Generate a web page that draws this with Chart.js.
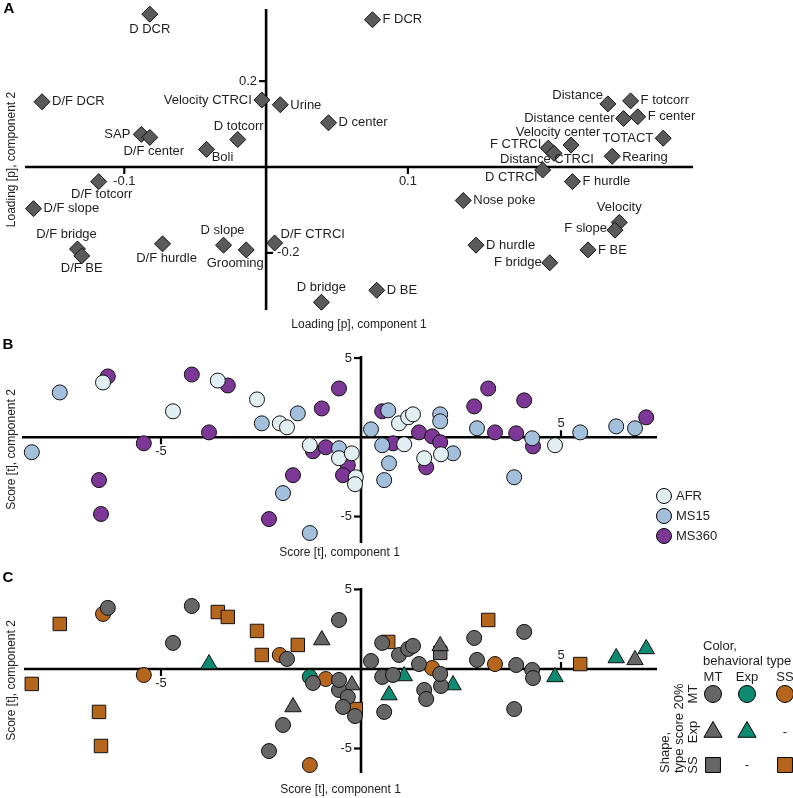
<!DOCTYPE html>
<html><head><meta charset="utf-8">
<script src="https://cdn.jsdelivr.net/npm/chart.js@4.4.1/dist/chart.umd.min.js"></script>
<style>
html,body{margin:0;padding:0;background:#fff;}
#wrap{position:relative;width:793px;height:798px;overflow:hidden;}
#wrap canvas{position:absolute;left:0;top:0;}
</style></head><body>
<div id="wrap">
<canvas id="cA" width="793" height="798"></canvas>
<canvas id="cB" width="793" height="798"></canvas>
<canvas id="cC" width="793" height="798"></canvas>
</div>
<script>
// ================= DATA =================
// Panel A: loadings
const loadingNames = ['D DCR','F DCR','D/F DCR','Velocity CTRCI','Urine','D center','Distance','F totcorr',
  'Distance center','F center','Velocity center','TOTACT','F CTRCI','Distance CTRCI','Rearing','D CTRCI',
  'F hurdle','Nose poke','Velocity','F slope','D hurdle','F BE','F bridge','D BE','D bridge','SAP',
  'D/F center','D totcorr','Boli','D/F totcorr','D/F slope','D/F bridge','D/F BE','D/F hurdle','D slope',
  'Grooming','D/F CTRCI'];
const loadingP1 = [-0.082,0.075,-0.158,-0.003,0.010,0.044,0.241,0.257,0.252,0.262,0.215,0.280,0.199,0.203,
  0.244,0.195,0.216,0.139,0.249,0.246,0.148,0.227,0.200,0.078,0.039,-0.088,-0.082,-0.020,-0.042,-0.118,
  -0.164,-0.133,-0.130,-0.073,-0.030,-0.014,0.006];
const loadingP2 = [0.356,0.343,0.152,0.156,0.145,0.103,0.147,0.154,0.113,0.117,0.051,0.067,0.044,0.032,
  0.025,-0.007,-0.034,-0.078,-0.129,-0.147,-0.182,-0.193,-0.223,-0.287,-0.315,0.076,0.069,0.064,0.041,
  -0.034,-0.097,-0.191,-0.207,-0.179,-0.182,-0.193,-0.177];
const loadingTicksX = [-0.1, 0.1];
const loadingTicksY = [0.2, -0.2];
const loadingTickLabelsX = ['-0.1','0.1'];
const loadingTickLabelsY = ['0.2','-0.2'];

// Panels B and C: scores (same animals), group and behavioural type
const groupNames = ['AFR','MS15','MS360'];
const afrT1 = [-6.45,-3.58,-4.70,-2.60,-2.03,-1.85,-1.28,-0.55,-0.23,-0.13,-0.15,0.95,1.18,1.30,1.08,1.58,2.00,4.85];
const afrT2 = [3.46,3.58,1.64,2.39,0.88,0.63,-0.50,-1.32,-1.01,-2.52,-2.96,0.88,1.26,1.45,-0.44,-1.32,-1.07,-0.50];
const ms15T1 = [-7.53,-8.23,-2.48,-1.58,0.25,0.68,0.53,0.70,0.58,-0.55,-1.95,-1.28,1.98,1.98,2.30,2.90,4.28,3.83,5.48,6.38,6.85];
const ms15T2 = [2.83,-0.94,0.88,1.51,0.50,1.70,-0.50,-1.64,-2.70,-0.69,-3.52,-6.04,1.45,1.01,-1.01,0.57,-0.06,-2.52,0.31,0.69,0.57];
const ms360T1 = [-6.33,-4.23,-3.33,-3.80,-5.43,-6.55,-6.50,-0.55,-0.98,0.53,-1.20,-0.88,-1.70,-0.33,-0.45,-2.30,0.80,1.45,1.78,1.98,2.83,3.18,3.35,3.88,4.08,4.30,1.63,7.13];
const ms360T2 = [3.84,3.96,3.27,0.31,-0.38,-2.70,-4.84,3.08,1.82,1.64,-0.88,-0.63,-2.39,-1.76,-2.39,-5.16,-0.38,0.31,0.06,-0.31,1.95,3.08,0.31,0.25,2.33,-0.57,-1.89,1.26];
// "shape type (type score 20%) / colour type (behavioral type)"
const afrType = ['MT/SS','SS/SS','MT/MT','SS/SS','MT/SS','MT/MT','MT/Exp','MT/MT','Exp/MT','SS/SS','MT/MT','MT/MT','MT/MT','MT/MT','Exp/Exp','MT/MT','MT/MT','Exp/Exp'];
const ms15Type = ['SS/SS','SS/SS','SS/SS','SS/SS','MT/MT','SS/SS','MT/MT','Exp/Exp','MT/MT','MT/MT','MT/MT','MT/SS','Exp/MT','SS/MT','Exp/Exp','MT/MT','MT/MT','MT/MT','SS/SS','Exp/Exp','Exp/MT'];
const ms360Type = ['MT/MT','MT/MT','SS/SS','Exp/Exp','MT/SS','SS/SS','SS/SS','MT/MT','Exp/MT','MT/MT','MT/MT','MT/SS','Exp/MT','MT/MT','MT/MT','MT/MT','MT/MT','MT/MT','MT/SS','MT/MT','MT/MT','SS/SS','MT/SS','MT/MT','MT/MT','MT/MT','MT/MT','Exp/Exp'];
const behaviouralTypes = ['MT','Exp','SS'];
const typeClasses = ['MT/MT','MT/Exp','MT/SS','Exp/MT','Exp/Exp','SS/MT','SS/SS'];
const scoreTicksX = [-5, 5];
const scoreTicksY = [5, -5];
const scoreTickLabelsX = ['-5','5'];
const scoreTickLabelsY = ['5','-5'];

// ================= STYLE =================
const FONT = "'Liberation Sans', Arial, Helvetica, sans-serif";
Chart.defaults.font.family = FONT;
const groupColors = ['#e2eff2','#a2bfdc','#7c3797'];
const typeColor = {MT:'#666666', Exp:'#0f8a72', SS:'#b6651d'};
const typeShape = {MT:'circle', Exp:'triangle', SS:'rect'};
const shapeRadius = {circle:7.5, triangle:9.5, rect:9.5};
// label placement for loadings: [dx, dy, align]
const labelPlace = {
  'D DCR':[0,15,'center'],'F DCR':[10,0,'left'],'D/F DCR':[10,0,'left'],'Velocity CTRCI':[-10,0,'right'],
  'Urine':[10,1,'left'],'D center':[10,0,'left'],'Distance':[-5,-8,'right'],'F totcorr':[10,0,'left'],
  'Distance center':[-9,0,'right'],'F center':[10,0,'left'],'Velocity center':[-13,-13,'center'],
  'TOTACT':[-10,0,'right'],'F CTRCI':[-7,-4,'right'],'Distance CTRCI':[-7,6,'center'],'Rearing':[10,1,'left'],
  'D CTRCI':[-5,7,'right'],'F hurdle':[10,0,'left'],'Nose poke':[10,0,'left'],'Velocity':[0,-15,'center'],
  'F slope':[-8,-2,'right'],'D hurdle':[10,0,'left'],'F BE':[10,1,'left'],'F bridge':[-8,0,'right'],
  'D BE':[10,0,'left'],'D bridge':[0,-15,'center'],'SAP':[-11,0,'right'],'D/F center':[4,14,'center'],
  'D totcorr':[1,-13,'center'],'Boli':[16,8,'center'],'D/F totcorr':[3,13,'center'],'D/F slope':[10,0,'left'],
  'D/F bridge':[-11,-15,'center'],'D/F BE':[0,13,'center'],'D/F hurdle':[4,15,'center'],'D slope':[-1,-15,'center'],
  'Grooming':[-11,14,'center'],'D/F CTRCI':[6,-9,'left']
};

// ================= PLUGINS =================
const crossAxes = {
  id:'crossAxes',
  beforeDatasetsDraw(chart, args, o){
    const {ctx, chartArea:ca, scales:{x,y}} = chart;
    const x0 = x.getPixelForValue(0), y0 = y.getPixelForValue(0);
    ctx.save();
    ctx.strokeStyle='#000'; ctx.lineWidth=2.6;
    ctx.beginPath(); ctx.moveTo(ca.left,y0); ctx.lineTo(ca.right,y0);
    ctx.moveTo(x0,ca.top); ctx.lineTo(x0,ca.bottom); ctx.stroke();
    ctx.fillStyle='#222'; ctx.font='13px '+FONT; ctx.lineWidth=2.2;
    o.xTicks.forEach((v,i)=>{
      const px=x.getPixelForValue(v); const s=o.xSide[i]==='up'?-1:1;
      ctx.beginPath(); ctx.moveTo(px,y0); ctx.lineTo(px,y0+s*7); ctx.stroke();
      ctx.textAlign='center'; ctx.textBaseline='middle';
      ctx.fillText(o.xLabels[i], px, y0+s*14);
    });
    o.yTicks.forEach((v,i)=>{
      const py=y.getPixelForValue(v); const s=o.ySide[i]==='left'?-1:1;
      ctx.beginPath(); ctx.moveTo(x0,py); ctx.lineTo(x0+s*7,py); ctx.stroke();
      ctx.textAlign=s<0?'right':'left'; ctx.textBaseline='middle';
      ctx.fillText(o.yLabels[i], x0+s*(s<0?9:11), py);
    });
    // titles
    ctx.font='12px '+FONT; ctx.fillStyle='#222';
    ctx.textAlign='center'; ctx.textBaseline='middle';
    ctx.fillText(o.xTitle,(ca.left+ca.right)/2,o.xTitleY);
    ctx.save(); ctx.translate(12,(ca.top+ca.bottom)/2); ctx.rotate(-Math.PI/2);
    ctx.fillText(o.yTitle,0,0); ctx.restore();
    // panel letter
    ctx.font='bold 15px '+FONT; ctx.fillStyle='#000';
    ctx.fillText(o.panel,o.panelX,o.panelY);
    ctx.restore();
  }
};

const pointLabels = {
  id:'pointLabels',
  afterDatasetsDraw(chart){
    const ctx=chart.ctx; const meta=chart.getDatasetMeta(0);
    ctx.save(); ctx.font='13px '+FONT; ctx.fillStyle='#1e1e1e'; ctx.textBaseline='middle';
    meta.data.forEach((el,i)=>{
      const name=loadingNames[i]; const p=labelPlace[name]||[10,0,'left'];
      ctx.textAlign=p[2]; ctx.fillText(name, el.x+p[0], el.y+p[1]);
    });
    ctx.restore();
  }
};

const groupLegend = {
  id:'groupLegend',
  afterDatasetsDraw(chart, args, o){
    const ctx=chart.ctx; ctx.save();
    chart.data.datasets.forEach((ds,i)=>{
      const cx=o.x, cy=o.y+i*o.dy;
      ctx.fillStyle=ds.backgroundColor; ctx.strokeStyle='#000'; ctx.lineWidth=1;
      ctx.beginPath(); ctx.arc(cx,cy,7.5,0,Math.PI*2); ctx.fill(); ctx.stroke();
      ctx.fillStyle='#1e1e1e'; ctx.font='13px '+FONT; ctx.textAlign='left'; ctx.textBaseline='middle';
      ctx.fillText(ds.label,cx+12,cy);
    });
    ctx.restore();
  }
};

const typeLegend = {
  id:'typeLegend',
  afterDatasetsDraw(chart, args, o){
    const ctx=chart.ctx; ctx.save();
    ctx.font='13px '+FONT; ctx.fillStyle='#1e1e1e'; ctx.textBaseline='middle'; ctx.textAlign='left';
    ctx.fillText('Color,',703,646);
    ctx.fillText('behavioral type',703,661);
    const cols=[713,747,785], rows=[694,732,765];
    ctx.textAlign='center';
    behaviouralTypes.forEach((t,i)=>ctx.fillText(t,cols[i],677));
    // rotated shape labels
    const rot=(txt,x,y,align)=>{ctx.save();ctx.translate(x,y);ctx.rotate(-Math.PI/2);ctx.textAlign=align;ctx.fillText(txt,0,0);ctx.restore();};
    rot('Shape,',665,773,'left');
    rot('type score 20%',679,773,'left');
    behaviouralTypes.forEach((t,i)=>rot(t,693,rows[i],'center'));
    behaviouralTypes.forEach((shapeT,r)=>{
      behaviouralTypes.forEach((colT,c)=>{
        const cls=shapeT+'/'+colT;
        if(typeClasses.indexOf(cls)<0){
          ctx.fillStyle='#1e1e1e'; ctx.textAlign='center'; ctx.fillText('-',cols[c],rows[r]); return;
        }
        const shape=typeShape[shapeT];
        ctx.fillStyle=typeColor[colT]; ctx.strokeStyle='#000'; ctx.lineWidth=1;
        Chart.helpers.drawPoint(ctx,{pointStyle:shape,radius:shape==='circle'?8.5:10.5,borderWidth:1,rotation:0},cols[c],rows[r]);
      });
    });
    ctx.restore();
  }
};

function pts(xs,ys){ return xs.map((v,i)=>({x:v,y:ys[i]})); }
const baseOpts = (pad,xmin,xmax,ymin,ymax)=>({
  responsive:false, animation:false, events:[],
  layout:{padding:pad},
  scales:{x:{type:'linear',min:xmin,max:xmax,display:false},y:{type:'linear',min:ymin,max:ymax,display:false}},
  plugins:{legend:{display:false},tooltip:{enabled:false}}
});

// ================= CHART A =================
const optA = baseOpts({left:25,right:100,top:5,bottom:488},-0.170,0.301,-0.333,0.368);
optA.plugins.crossAxes={xTicks:loadingTicksX,xLabels:loadingTickLabelsX,xSide:['down','down'],
  yTicks:loadingTicksY,yLabels:loadingTickLabelsY,ySide:['left','right'],
  xTitle:'Loading [p], component 1',xTitleY:325,yTitle:'Loading [p], component 2',panel:'A',panelX:9,panelY:9};
new Chart(document.getElementById('cA'),{
  type:'scatter',
  data:{datasets:[{label:'Loadings',data:pts(loadingP1,loadingP2),pointStyle:'rectRot',pointRadius:8,
    backgroundColor:'#5a5a5a',borderColor:'#111',borderWidth:1,clip:false}]},
  options:optA, plugins:[crossAxes,pointLabels]
});

// ================= CHART B =================
const optB = baseOpts({left:22,right:136,top:356,bottom:255},-8.475,7.4,-6.67,5.13);
optB.plugins.crossAxes={xTicks:scoreTicksX,xLabels:scoreTickLabelsX,xSide:['down','up'],
  yTicks:scoreTicksY,yLabels:scoreTickLabelsY,ySide:['left','left'],
  xTitle:'Score [t], component 1',xTitleY:553,yTitle:'Score [t], component 2',panel:'B',panelX:8,panelY:345};
optB.plugins.groupLegend={x:664,y:496,dy:20};
const groupT1=[afrT1,ms15T1,ms360T1], groupT2=[afrT2,ms15T2,ms360T2], groupType=[afrType,ms15Type,ms360Type];
new Chart(document.getElementById('cB'),{
  type:'scatter',
  data:{datasets:groupNames.map((g,i)=>({label:g,data:pts(groupT1[i],groupT2[i]),pointStyle:'circle',pointRadius:7.5,
    backgroundColor:groupColors[i],borderColor:'#111',borderWidth:1,clip:false}))},
  options:optB, plugins:[crossAxes,groupLegend]
});

// ================= CHART C =================
const optC = baseOpts({left:24,right:136,top:588,bottom:25},-8.425,7.4,-6.54,5.09);
optC.plugins.crossAxes={xTicks:scoreTicksX,xLabels:scoreTickLabelsX,xSide:['down','up'],
  yTicks:scoreTicksY,yLabels:scoreTickLabelsY,ySide:['left','left'],
  xTitle:'Score [t], component 1',xTitleY:790,yTitle:'Score [t], component 2',panel:'C',panelX:8,panelY:578};
const cDatasets = typeClasses.map(cls=>{
  const [shT,coT]=cls.split('/'); const data=[];
  groupNames.forEach((g,gi)=>groupType[gi].forEach((t,k)=>{ if(t===cls) data.push({x:groupT1[gi][k],y:groupT2[gi][k]}); }));
  const shape=typeShape[shT];
  return {label:cls,data,pointStyle:shape,pointRadius:shapeRadius[shape],backgroundColor:typeColor[coT],
    borderColor:'#111',borderWidth:1,clip:false};
});
new Chart(document.getElementById('cC'),{
  type:'scatter', data:{datasets:cDatasets}, options:optC, plugins:[crossAxes,typeLegend]
});
</script>
</body></html>
